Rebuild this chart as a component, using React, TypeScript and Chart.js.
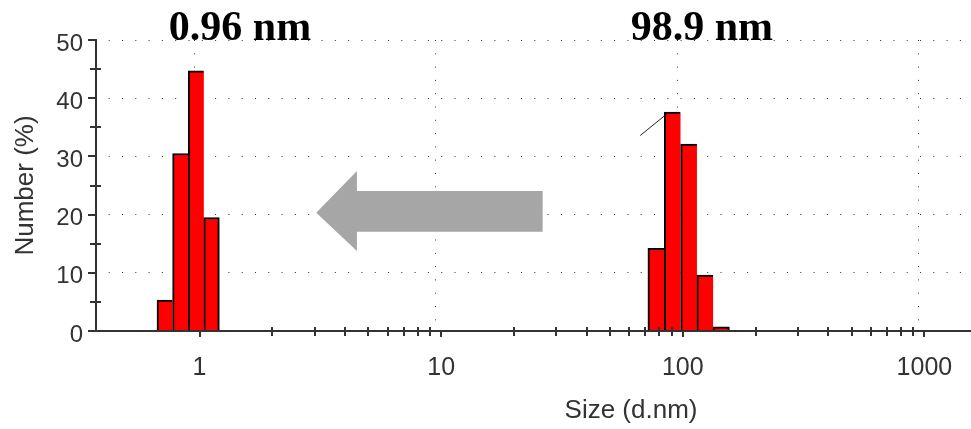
import { useEffect, useRef } from 'react';
import { Chart, registerables } from 'chart.js';

Chart.register(...registerables);

// Particle size distribution (Number %)
const smallSizes = [0.718, 0.833, 0.967, 1.121];
const smallNumbers = [5.3, 30.5, 44.7, 19.5];
const largeSizes = [77.5, 90.6, 105.9, 123.6, 144.3];
const largeNumbers = [14.2, 37.6, 32.1, 9.6, 0.7];

// cursor line next to the large peak
const cursorSizes = [66.7, 87.1];
const cursorNumbers = [33.6, 37.5];

// peak labels
const peakLabels = ['0.96 nm', '98.9 nm'];
const peakLabelSizes = [1.47, 119.9];
const peakLabelNumbers = [50, 50];

// grey arrow (data coordinates): tail -> head base -> tip
const arrowSizes = [26.3, 4.48, 4.48, 3.04, 4.48, 4.48, 26.3];
const arrowNumbers = [24.05, 24.05, 27.5, 20.3, 13.75, 17.06, 17.06];

const xMin = 0.3727;
const xMax = 10000;
const xLabelled = [1, 10, 100, 1000];
const xDecades = [1, 10, 100, 1000];
const yMin = 0;
const yMax = 50;

const AXIS = '#333333';
const SANS = '"Liberation Sans", Arial, sans-serif';

const isPow10 = (v: number) => {
  const l = Math.log10(v);
  return Math.abs(l - Math.round(l)) < 1e-9;
};

const decorPlugin = {
  id: 'decor',
  afterDatasetsDraw(chart: any) {
    const { ctx, scales, chartArea } = chart;
    const x = scales.x;
    const y = scales.y;
    ctx.save();
    // arrow
    ctx.fillStyle = '#a6a6a6';
    ctx.beginPath();
    arrowSizes.forEach((s, i) => {
      const px = x.getPixelForValue(s);
      const py = y.getPixelForValue(arrowNumbers[i]);
      if (i === 0) ctx.moveTo(px, py);
      else ctx.lineTo(px, py);
    });
    ctx.closePath();
    ctx.fill();

    // x axis line on top of bars
    const y0 = Math.round(y.getPixelForValue(0));
    ctx.strokeStyle = AXIS;
    ctx.lineWidth = 2;
    ctx.beginPath();
    ctx.moveTo(chartArea.left, y0);
    ctx.lineTo(chartArea.right, y0);
    ctx.stroke();

    // x tick marks
    xDecades.forEach((d) => {
      for (let m = 1; m <= 9; m++) {
        const v = d * m;
        const px = Math.round(x.getPixelForValue(v));
        ctx.beginPath();
        if (m === 1) {
          ctx.moveTo(px, y0);
          ctx.lineTo(px, y0 + 6);
        } else {
          ctx.moveTo(px, y0 - 4);
          ctx.lineTo(px, y0 + 5);
        }
        ctx.stroke();
      }
    });

    // y tick marks
    const x0 = Math.round(chartArea.left);
    for (let v = yMin; v <= yMax; v += 5) {
      const py = Math.round(y.getPixelForValue(v));
      ctx.beginPath();
      if (v % 10 === 0) {
        ctx.moveTo(x0 - 8, py);
        ctx.lineTo(x0, py);
      } else {
        ctx.moveTo(x0 - 6, py);
        ctx.lineTo(x0 + 5, py);
      }
      ctx.stroke();
    }
    ctx.restore();
  },
  afterDraw(chart: any) {
    const { ctx, scales } = chart;
    ctx.save();
    ctx.fillStyle = '#000';
    ctx.font = 'bold 42px "Liberation Serif", "Times New Roman", serif';
    ctx.textAlign = 'center';
    ctx.textBaseline = 'alphabetic';
    peakLabels.forEach((t, i) => {
      ctx.fillText(
        t,
        scales.x.getPixelForValue(peakLabelSizes[i]),
        scales.y.getPixelForValue(peakLabelNumbers[i])
      );
    });
    ctx.restore();
  },
};

export default function App() {
  const ref = useRef<HTMLCanvasElement>(null);

  useEffect(() => {
    if (!ref.current) return;
    const barStyle = (n: number) => ({
      backgroundColor: '#ff0000',
      borderColor: '#000000',
      borderWidth: (c: any) => ({ top: 2, left: 2, right: c.dataIndex === n - 1 ? 2 : 0, bottom: 0 }),
      borderSkipped: 'start',
      grouped: false,
      order: 1,
    });
    const chart = new Chart(ref.current, {
      type: 'bar',
      data: {
        datasets: [
          {
            type: 'line',
            data: cursorSizes.map((s, i) => ({ x: s, y: cursorNumbers[i] })),
            borderColor: '#222',
            borderWidth: 1,
            pointRadius: 0,
            order: 0,
          } as any,
          {
            ...barStyle(smallSizes.length),
            data: smallSizes.map((s, i) => ({ x: s, y: smallNumbers[i] })),
            barThickness: 15.6,
          } as any,
          {
            ...barStyle(largeSizes.length),
            data: largeSizes.map((s, i) => ({ x: s, y: largeNumbers[i] })),
            barThickness: 16.3,
          } as any,
        ],
      },
      options: {
        responsive: false,
        animation: false,
        events: [],
        layout: { padding: { top: 40, right: 0, left: 0, bottom: 0 } },
        plugins: { legend: { display: false }, tooltip: { enabled: false } },
        scales: {
          x: {
            type: 'logarithmic',
            min: xMin,
            max: xMax,
            afterFit: (s: any) => {
              s.height = 98;
              s.paddingLeft = 0;
              s.paddingRight = 0;
            },
            grid: {
              drawTicks: false,
              lineWidth: 1,
              color: (c: any) =>
                c.tick && isPow10(c.tick.value) && c.tick.value >= 1 ? AXIS : 'rgba(0,0,0,0)',
            },
            border: { display: false, dash: [1, 12.3], dashOffset: 0 },
            ticks: {
              autoSkip: false,
              maxRotation: 0,
              padding: 22,
              color: AXIS,
              font: { family: SANS, size: 25 },
              callback: (v: any) => {
                const n = Number(v);
                return xLabelled.some((t) => Math.abs(t - n) < 1e-6) ? String(Math.round(n)) : '';
              },
            },
            title: {
              display: true,
              text: 'Size (d.nm)',
              color: AXIS,
              font: { family: SANS, size: 26 },
              padding: { top: 0, bottom: 3 },
            },
          },
          y: {
            type: 'linear',
            min: yMin,
            max: yMax,
            afterFit: (s: any) => {
              s.width = 96;
              s.paddingTop = 0;
              s.paddingBottom = 0;
            },
            grid: {
              drawTicks: false,
              lineWidth: 1,
              color: (c: any) =>
                c.tick && c.tick.value % 10 === 0 && c.tick.value > 0 ? AXIS : 'rgba(0,0,0,0)',
            },
            border: { display: true, color: AXIS, width: 2, dash: [1, 12.3], dashOffset: 1.6 },
            ticks: {
              stepSize: 5,
              padding: 13,
              labelOffset: 4,
              color: AXIS,
              font: { family: SANS, size: 24 },
              callback: (v: any) => (Number(v) % 10 === 0 ? String(v) : ''),
            },
            title: {
              display: true,
              text: 'Number (%)',
              color: AXIS,
              font: { family: SANS, size: 26 },
              padding: { top: 10, bottom: 0 },
            },
          },
        },
      },
      plugins: [decorPlugin],
    } as any);
    return () => chart.destroy();
  }, []);

  return (
    <div
      style={{
        position: 'fixed',
        left: 0,
        top: 0,
        width: 971,
        height: 429,
        overflow: 'hidden',
        background: '#fff',
      }}
    >
      <canvas ref={ref} width={1166} height={429} style={{ display: 'block' }} />
    </div>
  );
}
